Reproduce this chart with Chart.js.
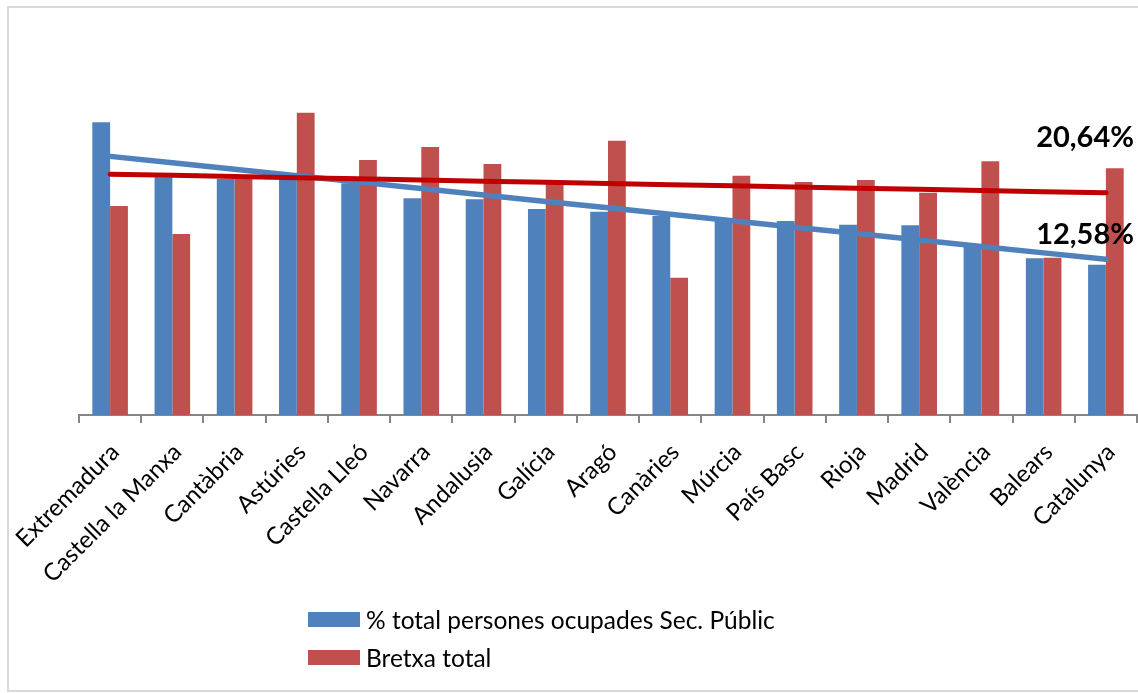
<!DOCTYPE html>
<html lang="ca">
<head>
<meta charset="utf-8">
<title>Sector públic i bretxa per comunitats</title>
<script src="https://cdn.jsdelivr.net/npm/chart.js@4/dist/chart.umd.min.js"></script>
<style>
  html, body { margin: 0; padding: 0; background: #fff; }
  #wrap { position: relative; width: 1138px; height: 693px; overflow: hidden; }
  #frame {
    position: absolute; left: 7px; top: 6px; width: 1150px; height: 686px;
    border: 2px solid #d9d9d9; box-sizing: border-box;
  }
  #chart { position: absolute; left: 0; top: 0; }
  #legend {
    position: absolute; left: 308px; top: 600px;
    font-family: Lato, 'Open Sans', sans-serif; font-size: 24.5px; color: #000;
  }
  #legend .item { display: flex; align-items: center; height: 38px; }
  #legend .swatch { width: 52px; height: 15px; margin-right: 6px; }
</style>
</head>
<body>
<div id="wrap">
  <div id="frame"></div>
  <canvas id="chart" width="1138" height="693"></canvas>
  <div id="legend"></div>
</div>
<script>
// ─── Dades ─────────────────────────────────────────────────────
const COMUNITATS = [
  'Extremadura', 'Castella la Manxa', 'Cantàbria', 'Astúries', 'Castella Lleó',
  'Navarra', 'Andalusia', 'Galícia', 'Aragó', 'Canàries', 'Múrcia',
  'País Basc', 'Rioja', 'Madrid', 'València', 'Balears', 'Catalunya'
];

// % total persones ocupades al sector públic
const SEC_PUBLIC = [
  24.49, 19.89, 19.75, 19.83, 19.39, 18.13, 18.05, 17.24, 17.01,
  16.65, 16.40, 16.23, 15.93, 15.87, 14.14, 13.11, 12.58
];

// Bretxa total
const BRETXA = [
  17.49, 15.15, 19.95, 25.30, 21.34, 22.43, 21.00, 19.41, 22.95,
  11.49, 20.03, 19.50, 19.67, 18.60, 21.23, 13.16, 20.64
];

const Y_MAX = 30;

const COLORS = {
  blue:     '#4f81bd',
  red:      '#c0504d',
  trendRed: '#c00000',
  axis:     '#868686',
  text:     '#000000',
};

// ─── Helpers ───────────────────────────────────────────────────
// recta de regressió (mínims quadrats) avaluada a cada categoria
function linearTrend(values) {
  const n = values.length;
  const mx = (n - 1) / 2;
  const my = values.reduce((s, v) => s + v, 0) / n;
  let sxy = 0, sxx = 0;
  values.forEach((v, i) => { sxy += (i - mx) * (v - my); sxx += (i - mx) ** 2; });
  const slope = sxy / sxx;
  return values.map((_, i) => my + slope * (i - mx));
}

function pct(v) {
  return v.toFixed(2).replace('.', ',') + '%';
}

// etiqueta amb el valor de l'última comunitat sobre cada barra
const lastValueLabels = {
  id: 'lastValueLabels',
  afterDatasetsDraw(chart) {
    const { ctx, chartArea } = chart;
    ctx.save();
    ctx.font = "bold 29px Lato, 'Open Sans', sans-serif";
    ctx.fillStyle = COLORS.text;
    ctx.textAlign = 'right';
    ctx.textBaseline = 'alphabetic';
    chart.data.datasets.forEach((ds, di) => {
      if (ds.type === 'line') return;
      const meta = chart.getDatasetMeta(di);
      const last = meta.data[meta.data.length - 1];
      ctx.fillText(pct(ds.data[ds.data.length - 1]), chartArea.right - 3, last.y - 21);
    });
    ctx.restore();
  }
};

// ─── Gràfic ────────────────────────────────────────────────────
const chart = new Chart(document.getElementById('chart'), {
  type: 'bar',
  data: {
    labels: COMUNITATS,
    datasets: [
      {
        label: '% total persones ocupades Sec. Públic',
        data: SEC_PUBLIC,
        backgroundColor: COLORS.blue,
        order: 3,
      },
      {
        label: 'Bretxa total',
        data: BRETXA,
        backgroundColor: COLORS.red,
        order: 3,
      },
      {
        type: 'line',
        label: 'Tendència Sec. Públic',
        data: linearTrend(SEC_PUBLIC),
        borderColor: COLORS.blue,
        borderWidth: 5.5,
        borderCapStyle: 'round',
        pointRadius: 0,
        order: 1,
      },
      {
        type: 'line',
        label: 'Tendència bretxa',
        data: linearTrend(BRETXA),
        borderColor: COLORS.trendRed,
        borderWidth: 5,
        borderCapStyle: 'round',
        pointRadius: 0,
        order: 0,
      },
    ]
  },
  options: {
    responsive: false,
    animation: false,
    layout: { padding: { left: 79, right: 1, top: 56.5, bottom: 0 } },
    datasets: {
      bar: { categoryPercentage: 0.572, barPercentage: 1.0 }
    },
    plugins: {
      legend: { display: false },
      tooltip: { enabled: false },
    },
    scales: {
      x: {
        offset: true,
        grid: {
          offset: true,
          drawOnChartArea: false,
          drawTicks: true,
          tickLength: 8,
          color: COLORS.axis,
          lineWidth: 2,
        },
        border: { display: true, color: COLORS.axis, width: 2 },
        ticks: {
          autoSkip: false,
          maxRotation: 45,
          minRotation: 45,
          padding: 15,
          labelOffset: 5,
          color: COLORS.text,
          font: { family: "Lato, 'Open Sans', sans-serif", size: 24 },
        },
        // eixos fixos: l'àrea de dibuix no s'ha de moure per les etiquetes girades
        afterFit(axis) {
          axis.height = 278;
          axis.paddingLeft = 0;
          axis.paddingRight = 0;
        },
      },
      y: {
        display: false,
        min: 0,
        max: Y_MAX,
      }
    }
  },
  plugins: [lastValueLabels]
});

// ─── Llegenda ──────────────────────────────────────────────────
const legendEl = document.getElementById('legend');
chart.data.datasets.filter(ds => ds.type !== 'line').forEach(ds => {
  const item = document.createElement('div');
  item.className = 'item';
  const sw = document.createElement('span');
  sw.className = 'swatch';
  sw.style.background = ds.backgroundColor;
  const txt = document.createElement('span');
  txt.textContent = ds.label;
  item.append(sw, txt);
  legendEl.appendChild(item);
});
</script>
</body>
</html>
